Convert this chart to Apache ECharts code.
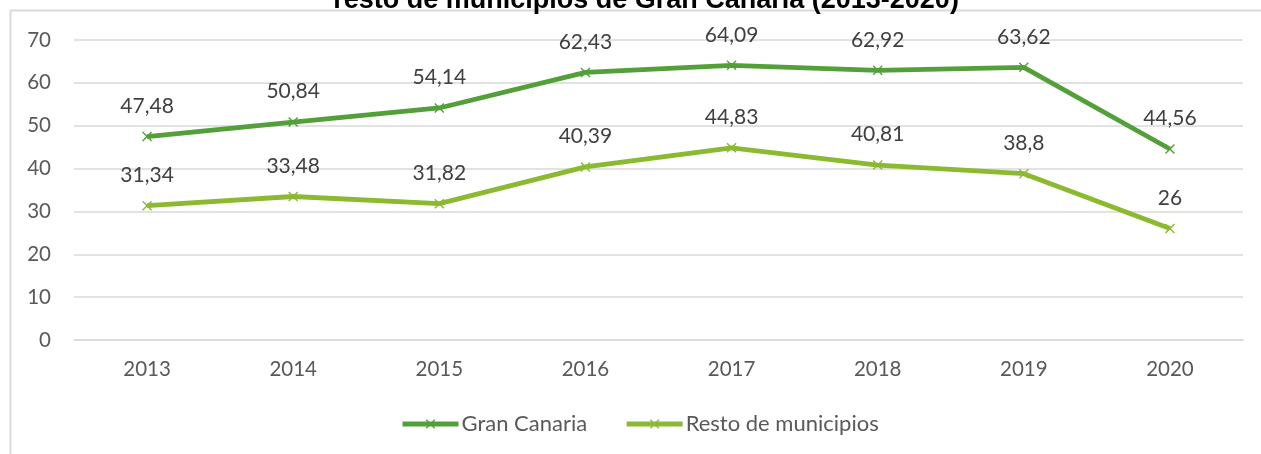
<!DOCTYPE html>
<html>
<head>
<meta charset="utf-8">
<script src="https://cdn.jsdelivr.net/npm/echarts@6/dist/echarts.min.js"></script>
<style>
    html, body { margin: 0; padding: 0; background: #fff; }
    #chart { width: 1261px; height: 454px; }
</style>
</head>
<body>
<div id="chart"></div>
<script>
var years = ['2013', '2014', '2015', '2016', '2017', '2018', '2019', '2020'];
var granCanaria = [47.48, 50.84, 54.14, 62.43, 64.09, 62.92, 63.62, 44.56];
var restoMunicipios = [31.34, 33.48, 31.82, 40.39, 44.83, 40.81, 38.8, 26];
var yTicks = [0, 10, 20, 30, 40, 50, 60, 70];

var crossMark = 'path://M0,1L1,0L5,4L9,0L10,1L6,5L10,9L9,10L5,6L1,10L0,9L4,5Z';
var labelFont = 'Lato, "Open Sans", sans-serif';

function fmt(v) {
    return String(v).replace('.', ',');
}

function makeSeries(name, data, color) {
    return {
        name: name,
        type: 'line',
        data: data,
        symbol: crossMark,
        symbolSize: 10,
        showAllSymbol: true,
        lineStyle: { color: color, width: 4.8 },
        itemStyle: { color: color },
        label: {
            show: true,
            position: 'top',
            distance: 15,
            color: '#404040',
            fontFamily: labelFont,
            fontSize: 21,
            formatter: function (p) { return fmt(p.value); }
        },
        emphasis: { disabled: true },
        animation: false
    };
}

window.onload = function () {
    let myChart = echarts.init(document.getElementById('chart'));
    let option = {
        backgroundColor: '#fff',
        animation: false,
        title: {
            text: 'resto de municipios de Gran Canaria (2013-2020)',
            left: 641,
            textAlign: 'center',
            top: -18,
            textStyle: {
                fontFamily: '"Liberation Sans", Arial, sans-serif',
                fontWeight: 'bold',
                fontSize: 27,
                color: '#000'
            }
        },
        graphic: [{
            type: 'rect',
            silent: true,
            z: -1,
            shape: { x: 10.5, y: 10.5, width: 1400, height: 600 },
            style: { fill: 'none', stroke: '#d9d9d9', lineWidth: 2 }
        }],
        legend: {
            bottom: 14,
            left: 395,
            itemWidth: 56,
            itemHeight: 12,
            itemGap: 37,
            lineStyle: { width: 5 },
            textStyle: {
                fontFamily: labelFont,
                fontSize: 22,
                color: '#595959',
                padding: [0, 0, 0, -2]
            },
            data: ['Gran Canaria', 'Resto de municipios']
        },
        grid: {
            left: 74,
            right: 18,
            top: 40,
            bottom: 114
        },
        xAxis: {
            type: 'category',
            data: years,
            boundaryGap: true,
            axisLine: { show: true, lineStyle: { color: '#d9d9d9', width: 1.5 } },
            axisTick: { show: false },
            axisLabel: {
                margin: 19,
                color: '#595959',
                fontFamily: labelFont,
                fontSize: 20.5
            }
        },
        yAxis: {
            type: 'value',
            min: yTicks[0],
            max: yTicks[yTicks.length - 1],
            interval: 10,
            axisLine: { show: false },
            axisTick: { show: false },
            splitLine: { lineStyle: { color: '#d9d9d9', width: 1.5 } },
            axisLabel: {
                margin: 23,
                color: '#595959',
                fontFamily: labelFont,
                fontSize: 20.5
            }
        },
        series: [
            makeSeries('Gran Canaria', granCanaria, '#53a03a'),
            makeSeries('Resto de municipios', restoMunicipios, '#8bba31')
        ]
    };
    myChart.setOption(option);
}
</script>
</body>
</html>
